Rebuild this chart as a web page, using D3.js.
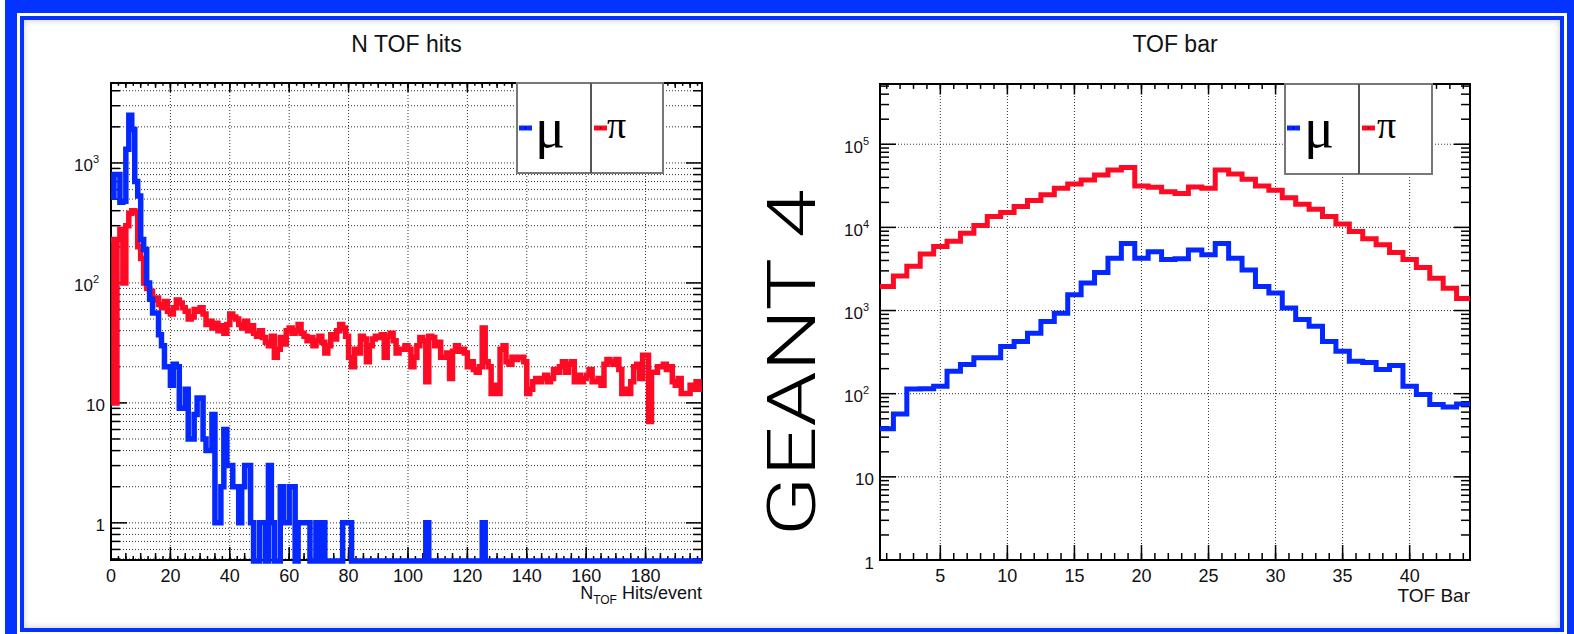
<!DOCTYPE html>
<html>
<head>
<meta charset="utf-8">
<script src="https://cdn.jsdelivr.net/npm/d3@7"></script>
<style>
body { margin:0; width:1574px; height:634px; overflow:hidden; background:#fff; position:relative; font-family:"Liberation Sans", Arial, sans-serif; }
#outer { position:absolute; left:5px; top:0; width:1569px; height:650px; box-sizing:border-box; border:12px solid #0433ff; border-top-width:13px; border-right-width:7px; }
#inner { position:absolute; left:20px; top:16px; width:1544px; height:616px; box-sizing:border-box; border:4px solid #0433ff; box-shadow: inset 0 0 7px rgba(0,0,0,0.2); }
svg { position:absolute; left:0; top:0; }
.grid { stroke:#333; stroke-width:1; stroke-dasharray:1 2; }
</style>
</head>
<body>
<div id="outer"></div>
<div id="inner"></div>
<script>
// N TOF hits, one bin per hit count 0..199
const nTofBlue = [
  520,800,800,470,480,1300,2500,1900,700,530,230,190,100,73,56,56,37,30,20,20,
  14,21,20,9,9,13,5,5,8,11,11,5,4,4,8,1,1,2,6,3,
  3,2,2,1,2,3,3,1,0,0,1,1,0,3,1,0,0,2,1,1,
  2,2,0,1,1,1,1,0,0,1,0,1,0,0,0,0,0,0,1,1,
  1,0,0,0,0,0,0,0,0,0,0,0,0,0,0,0,0,0,0,0,
  0,0,0,0,0,0,1,0,0,0,0,0,0,0,0,0,0,0,0,0,
  0,0,0,0,0,1,0,0,0,0,0,0,0,0,0,0,0,0,0,0,
  0,0,0,0,0,0,0,0,0,0,0,0,0,0,0,0,0,0,0,0,
  0,0,0,0,0,0,0,0,0,0,0,0,0,0,0,0,0,0,0,0,
  0,0,0,0,0,0,0,0,0,0,0,0,0,0,0,0,0,0,0,0
];
const nTofRed = [
  230,10,230,280,100,300,380,400,390,200,160,100,90,85,72,75,66,62,70,58,
  55,62,72,68,62,58,50,52,60,58,62,55,45,48,42,46,40,44,38,45,
  55,52,50,45,42,48,40,44,38,36,40,35,32,30,36,24,28,35,31,40,
  42,38,40,45,38,36,33,35,30,33,36,32,26,30,37,34,40,45,42,36,
  24,20,28,26,36,34,22,30,34,36,35,37,24,36,38,33,26,28,28,30,
  28,20,24,30,35,33,15,36,35,30,32,24,24,26,16,27,30,27,28,26,
  20,22,19,18,20,42,22,20,12,14,12,28,30,22,21,24,23,24,24,22,
  12,13,15,16,15,16,17,15,16,19,18,20,22,18,21,22,15,17,15,16,
  17,19,15,15,16,14,21,23,22,21,23,19,12,13,12,15,20,21,16,25,
  25,7,18,18,20,20,21,19,20,15,14,16,12,12,12,14,13,15,13,13
];
// TOF bar, bars 1..44
const barIds = [1,2,3,4,5,6,7,8,9,10,11,12,13,14,15,16,17,18,19,20,21,22,23,24,25,26,27,28,29,30,31,32,33,34,35,36,37,38,39,40,41,42,43,44];
const barBlue = [38,57,114,115,123,186,224,270,270,370,425,535,740,930,1550,2140,2860,4260,6400,4260,5100,4100,4200,
  5350,4700,6400,4260,3080,1940,1620,1070,780,645,425,323,245,238,195,218,123,98,74,69,75];
const barRed = [1950,2600,3400,4800,5900,6800,8500,10500,13500,15100,17800,21000,24600,29500,33300,37200,42600,49000,52600,31500,30300,26800,25600,
  30500,29500,49000,44000,37800,31500,28000,22700,19000,16500,13500,11000,8900,7300,6200,5000,4100,3300,2450,1850,1400];

const hitTickLabels = [0,20,40,60,80,100,120,140,160,180];
const barTickLabels = [5,10,15,20,25,30,35,40];
const hitYLabels = [{v:1000,b:"10",e:"3"},{v:100,b:"10",e:"2"},{v:10,b:"10",e:""},{v:1,b:"1",e:""}];
const barYLabels = [{v:1e5,b:"10",e:"5"},{v:1e4,b:"10",e:"4"},{v:1e3,b:"10",e:"3"},{v:100,b:"10",e:"2"},{v:10,b:"10",e:""},{v:1,b:"1",e:""}];

const BLUE = "#0528ff", RED = "#fd0a24";

const svg = d3.select("body").append("svg").attr("width",1574).attr("height",634);

function logMinor(lo, hi) {
  const out = [];
  for (let k = -1; k <= 6; k++) for (let m = 1; m <= 9; m++) {
    const v = m * Math.pow(10, k);
    if (v >= lo && v <= hi) out.push(v);
  }
  return out;
}

function drawPanel(p) {
  const g = svg.append("g");
  const x = d3.scaleLinear().domain(p.xDomain).range([p.left, p.right]);
  const y = d3.scaleLog().domain(p.yDomain).range([p.bottom, p.top]);
  const clipId = "clip" + p.id;
  svg.append("clipPath").attr("id", clipId).append("rect")
    .attr("x", p.left).attr("y", p.top - 10).attr("width", p.right - p.left).attr("height", p.bottom - p.top + 14);

  // grid
  g.append("g").selectAll("line").data(p.gridX).join("line").attr("class","grid")
    .attr("x1", d => x(d)).attr("x2", d => x(d)).attr("y1", p.top).attr("y2", p.bottom);
  g.append("g").selectAll("line").data(p.gridY).join("line").attr("class","grid")
    .attr("x1", p.left).attr("x2", p.right).attr("y1", d => y(d)).attr("y2", d => y(d));

  // frame
  g.append("rect").attr("x", p.left).attr("y", p.top).attr("width", p.right - p.left).attr("height", p.bottom - p.top)
    .attr("fill","none").attr("stroke","#000").attr("stroke-width",2);

  // x ticks (bottom and top, inward)
  p.xTicks.forEach(t => {
    g.append("g").selectAll("line").data(t.values).join("line")
      .attr("x1", d => x(d)).attr("x2", d => x(d)).attr("y1", p.bottom).attr("y2", p.bottom - t.len)
      .attr("stroke","#000").attr("stroke-width",1.5);
    g.append("g").selectAll("line").data(t.values).join("line")
      .attr("x1", d => x(d)).attr("x2", d => x(d)).attr("y1", p.top).attr("y2", p.top + t.len * 0.7)
      .attr("stroke","#000").attr("stroke-width",1.5);
  });
  // y ticks (left and right, inward)
  const yMinor = logMinor(p.yDomain[0], p.yDomain[1]);
  yMinor.forEach(v => {
    const major = Math.abs(Math.log10(v) - Math.round(Math.log10(v))) < 1e-9;
    const len = major ? 16 : 9;
    g.append("line").attr("x1", p.left).attr("x2", p.left + len).attr("y1", y(v)).attr("y2", y(v))
      .attr("stroke","#000").attr("stroke-width",1.5);
    g.append("line").attr("x1", p.right).attr("x2", p.right - len).attr("y1", y(v)).attr("y2", y(v))
      .attr("stroke","#000").attr("stroke-width",1.5);
  });

  // histograms
  p.series.forEach(s => {
    const pts = s.values.map((v, i) => [x(s.lo[i]), v > 0 ? y(Math.max(v, p.yDomain[0])) : p.bottom + 1]);
    const last = s.values.length - 1;
    pts.push([x(s.hi[last]), pts[last][1]]);
    g.append("path").attr("d", d3.line().curve(d3.curveStepAfter)(pts))
      .attr("fill","none").attr("stroke", s.color).attr("stroke-width", p.lineWidth)
      .attr("stroke-linejoin","miter").attr("clip-path", `url(#${clipId})`);
  });

  // x labels
  g.append("g").selectAll("text").data(p.xLabels).join("text")
    .attr("x", d => x(d)).attr("y", p.bottom + 22).attr("text-anchor","middle")
    .attr("font-size",18).attr("fill","#111").text(d => d);
  // y labels
  p.yLabels.forEach(l => {
    const t = g.append("text").attr("x", p.left - (l.e ? p.expGap : 6)).attr("y", y(l.v) + 8.5)
      .attr("text-anchor","end").attr("font-size",17).attr("fill","#111");
    t.append("tspan").text(l.b);
    if (l.e) t.append("tspan").attr("dy", -8).attr("font-size", 11).text(l.e);
  });

  // title
  g.append("text").attr("x", (p.left + p.right) / 2).attr("y", 52).attr("text-anchor","middle")
    .attr("font-size",23).attr("fill","#111").text(p.title);

  // axis title
  const at = g.append("text").attr("x", p.right).attr("y", p.axisTitleY).attr("text-anchor","end")
    .attr("font-size", p.axisTitleSize).attr("fill","#111");
  p.axisTitle.forEach(part => {
    const ts = at.append("tspan").text(part.t);
    if (part.sub) ts.attr("dy", 5).attr("font-size", 12);
    if (part.back) ts.attr("dy", -5);
  });

  // legend
  const L = p.legend;
  const lg = g.append("g");
  lg.append("rect").attr("x", L.x0).attr("y", p.top).attr("width", L.x1 - L.x0).attr("height", 90)
    .attr("fill","#fff").attr("stroke","#777").attr("stroke-width",2);
  lg.append("line").attr("x1", L.xm).attr("x2", L.xm).attr("y1", p.top).attr("y2", p.top + 90)
    .attr("stroke","#555").attr("stroke-width",2);
  L.entries.forEach(e => {
    lg.append("line").attr("x1", e.mx).attr("x2", e.mx + 13).attr("y1", 128).attr("y2", 128)
      .attr("stroke", e.color).attr("stroke-width", 5);
    lg.append("circle").attr("cx", e.mx + 6.5).attr("cy", 128).attr("r", 0.8).attr("fill", "#000");
    lg.append("text").attr("x", e.tx).attr("y", e.base).attr("font-family", "'Liberation Serif', 'DejaVu Serif', serif")
      .attr("font-size", e.size).attr("fill","#000").text(e.label);
  });
}

const hitLo = nTofBlue.map((d, i) => i), hitHi = nTofBlue.map((d, i) => i + 1);
drawPanel({
  id: "L", left: 111, right: 702, top: 83, bottom: 560,
  xDomain: [0, 199], yDomain: [0.49, 4640], lineWidth: 5.5, expGap: 12,
  gridX: hitTickLabels.slice(1), gridY: logMinor(0.49, 4640),
  xTicks: [
    {values: d3.range(0, 200, 2.5), len: 4},
    {values: d3.range(0, 200, 5), len: 7},
    {values: d3.range(0, 200, 20), len: 13}
  ],
  xLabels: hitTickLabels, yLabels: hitYLabels,
  series: [
    {values: nTofRed, lo: hitLo, hi: hitHi, color: RED},
    {values: nTofBlue, lo: hitLo, hi: hitHi, color: BLUE}
  ],
  title: "N TOF hits",
  axisTitle: [{t:"N"},{t:"TOF", sub:true},{t:" Hits/event", back:true}], axisTitleY: 599, axisTitleSize: 18,
  legend: {x0: 517, xm: 591, x1: 663, entries: [
    {mx: 519, tx: 535, base: 147, size: 56, label: "\u03bc", color: BLUE},
    {mx: 594, tx: 607, base: 138, size: 38, label: "\u03c0", color: RED}
  ]}
});

const barLo = barIds.map(d => d - 0.5), barHi = barIds.map(d => d + 0.5);
drawPanel({
  id: "R", left: 880, right: 1470, top: 84, bottom: 560,
  xDomain: [0.5, 44.5], yDomain: [1, 5.3e5], lineWidth: 5, expGap: 11,
  gridX: barTickLabels, gridY: [10, 100, 1000, 1e4, 1e5],
  xTicks: [
    {values: barIds, len: 7},
    {values: barTickLabels, len: 15}
  ],
  xLabels: barTickLabels, yLabels: barYLabels,
  series: [
    {values: barRed, lo: barLo, hi: barHi, color: RED},
    {values: barBlue, lo: barLo, hi: barHi, color: BLUE}
  ],
  title: "TOF bar",
  axisTitle: [{t:"TOF Bar"}], axisTitleY: 602, axisTitleSize: 19,
  legend: {x0: 1285, xm: 1359, x1: 1432, entries: [
    {mx: 1287, tx: 1304, base: 147, size: 56, label: "\u03bc", color: BLUE},
    {mx: 1362, tx: 1377, base: 138, size: 38, label: "\u03c0", color: RED}
  ]}
});

// side label
svg.append("text").attr("transform", "translate(815,363) rotate(-90)")
  .attr("text-anchor","middle").attr("font-family","Roboto, 'Liberation Sans', sans-serif").attr("font-weight",300)
  .attr("font-size",67).attr("textLength",347).attr("lengthAdjust","spacingAndGlyphs").attr("fill","#000").text("GEANT 4");
</script>
</body>
</html>
